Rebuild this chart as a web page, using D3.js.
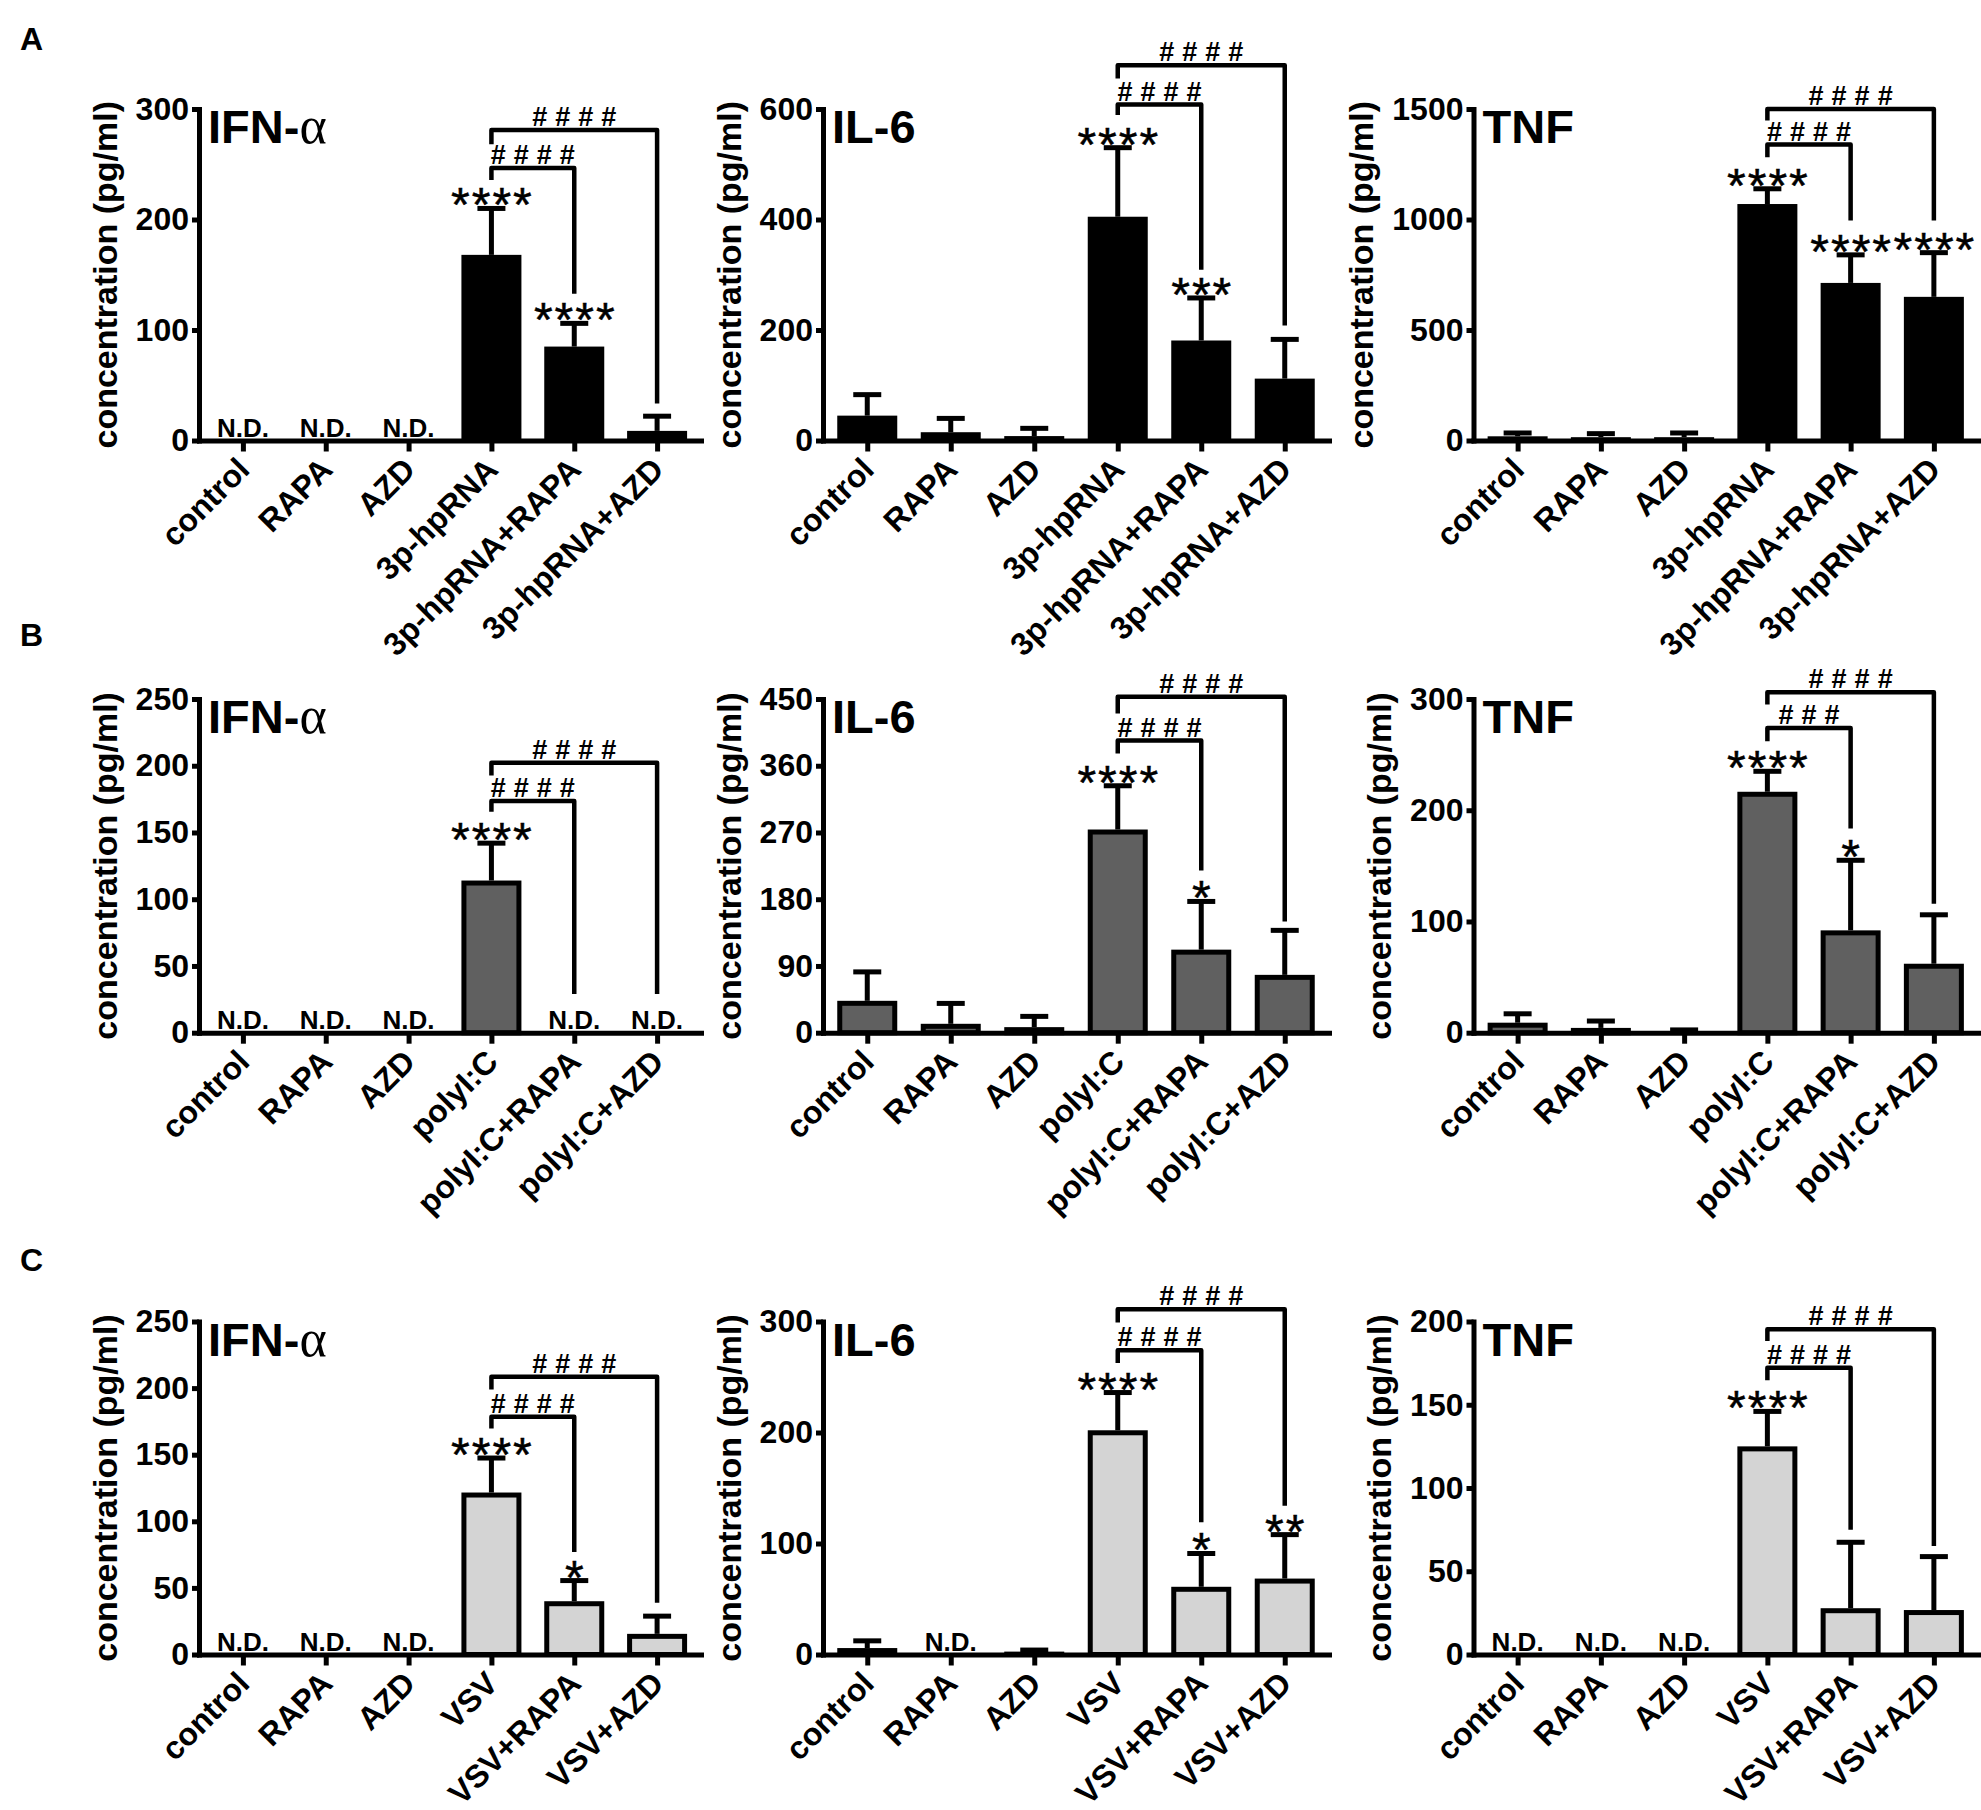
<!DOCTYPE html>
<html>
<head>
<meta charset="utf-8">
<script src="https://cdn.jsdelivr.net/npm/d3@7"></script>
<style>
  body { margin: 0; background: #fff; }
  svg { display: block; }
</style>
</head>
<body>
<script>
let width = 1981;
let height = 1810;
const FONT = "'Liberation Sans', Arial, Helvetica, sans-serif";

// group names per row
const groups3p   = ['control', 'RAPA', 'AZD', '3p-hpRNA', '3p-hpRNA+RAPA', '3p-hpRNA+AZD'];
const groupsPoly = ['control', 'RAPA', 'AZD', 'polyI:C', 'polyI:C+RAPA', 'polyI:C+AZD'];
const groupsVsv  = ['control', 'RAPA', 'AZD', 'VSV', 'VSV+RAPA', 'VSV+AZD'];

// A: 3p-hpRNA  (null = N.D.)
const ifn3pMean  = [null, null, null, 168, 85, 8.7];
const ifn3pUpper = [null, null, null, 210, 106, 22];
const ifn3pStars = ['', '', '', '****', '****', ''];
const il63pMean  = [45, 15, 8, 405, 181, 112];
const il63pUpper = [83, 40, 22, 530, 258, 183];
const il63pStars = ['', '', '', '****', '***', ''];
const tnf3pMean  = [19, 15, 15, 1070, 713, 650];
const tnf3pUpper = [34, 31, 34, 1139, 840, 850];
const tnf3pStars = ['', '', '', '****', '****', '****'];

// B: polyI:C
const ifnPolyMean  = [null, null, null, 114, null, null];
const ifnPolyUpper = [null, null, null, 142, null, null];
const ifnPolyStars = ['', '', '', '****', '', ''];
const il6PolyMean  = [43, 12, 7.5, 274, 112, 78];
const il6PolyUpper = [82, 39.5, 22, 333, 177, 138];
const il6PolyStars = ['', '', '', '****', '*', ''];
const tnfPolyMean  = [9, 4.3, 2, 216.6, 92, 62];
const tnfPolyUpper = [17, 10.5, 2.5, 235, 155, 106];
const tnfPolyStars = ['', '', '', '****', '*', ''];

// C: VSV
const ifnVsvMean  = [null, null, null, 121.6, 40, 15.5];
const ifnVsvUpper = [null, null, null, 147.5, 55.5, 28.8];
const ifnVsvStars = ['', '', '', '****', '*', ''];
const il6VsvMean  = [5.8, null, 2.6, 202, 61, 68.4];
const il6VsvUpper = [12.3, null, 4, 236, 91, 108];
const il6VsvStars = ['', '', '', '****', '*', '**'];
const tnfVsvMean  = [null, null, null, 125, 27.8, 26.7];
const tnfVsvUpper = [null, null, null, 146, 67.4, 58.8];
const tnfVsvStars = ['', '', '', '****', '', ''];

// comparison brackets vs group 4: [target group, bracket level, left foot, right foot, label] in data units
const ifn3pBrackets   = [[4, 246.6, 235.7, 132.7, '####'], [5, 281, 268, 33.5, '####']];
const il63pBrackets   = [[4, 608, 589, 309, '####'], [5, 679, 655, 208, '####']];
const tnf3pBrackets   = [[4, 1339, 1282, 995, '####'], [5, 1500, 1448, 995, '####']];
const ifnPolyBrackets = [[4, 173.6, 165.6, 29, '####'], [5, 202.3, 192.6, 29, '####']];
const il6PolyBrackets = [[4, 394, 376.5, 218.6, '####'], [5, 453, 430.5, 150, '####']];
const tnfPolyBrackets = [[4, 274, 262, 183.5, '###'], [5, 306, 295, 116, '####']];
const ifnVsvBrackets  = [[4, 178.5, 169.7, 77, '####'], [5, 208.5, 199, 38.8, '####']];
const il6VsvBrackets  = [[4, 274, 262.7, 119.2, '####'], [5, 311, 299, 134, '####']];
const tnfVsvBrackets  = [[4, 172.2, 164.7, 74.9, '####'], [5, 195.3, 188.3, 65.2, '####']];

const rowLetters = ['A', 'B', 'C'];
const rowFills = ['#000000', '#606060', '#d4d4d4'];

// plot frame positions
const colX = [[199, 701], [823, 1329], [1473.5, 1978]];
const rowY = [[440.5, 109], [1032.7, 699], [1654.5, 1321.5]];
const letterY = [50, 646, 1271];

const panels = [
	{ row: 0, col: 0, title: ['IFN-', 'α'], groups: groups3p, max: 300, step: 100, mean: ifn3pMean, upper: ifn3pUpper, stars: ifn3pStars, brackets: ifn3pBrackets },
	{ row: 0, col: 1, title: ['IL-6', ''], groups: groups3p, max: 600, step: 200, mean: il63pMean, upper: il63pUpper, stars: il63pStars, brackets: il63pBrackets },
	{ row: 0, col: 2, title: ['TNF', ''], groups: groups3p, max: 1500, step: 500, mean: tnf3pMean, upper: tnf3pUpper, stars: tnf3pStars, brackets: tnf3pBrackets },
	{ row: 1, col: 0, title: ['IFN-', 'α'], groups: groupsPoly, max: 250, step: 50, mean: ifnPolyMean, upper: ifnPolyUpper, stars: ifnPolyStars, brackets: ifnPolyBrackets },
	{ row: 1, col: 1, title: ['IL-6', ''], groups: groupsPoly, max: 450, step: 90, mean: il6PolyMean, upper: il6PolyUpper, stars: il6PolyStars, brackets: il6PolyBrackets },
	{ row: 1, col: 2, title: ['TNF', ''], groups: groupsPoly, max: 300, step: 100, mean: tnfPolyMean, upper: tnfPolyUpper, stars: tnfPolyStars, brackets: tnfPolyBrackets },
	{ row: 2, col: 0, title: ['IFN-', 'α'], groups: groupsVsv, max: 250, step: 50, mean: ifnVsvMean, upper: ifnVsvUpper, stars: ifnVsvStars, brackets: ifnVsvBrackets },
	{ row: 2, col: 1, title: ['IL-6', ''], groups: groupsVsv, max: 300, step: 100, mean: il6VsvMean, upper: il6VsvUpper, stars: il6VsvStars, brackets: il6VsvBrackets },
	{ row: 2, col: 2, title: ['TNF', ''], groups: groupsVsv, max: 200, step: 50, mean: tnfVsvMean, upper: tnfVsvUpper, stars: tnfVsvStars, brackets: tnfVsvBrackets }
];

let svg = d3.select('body').append('svg')
	.attr('width', width)
	.attr('height', height)
	.style('background-color', '#fff');

// row letters
rowLetters.forEach((l, i) => {
	svg.append('text')
		.attr('x', 20)
		.attr('y', letterY[i])
		.attr('font-family', FONT)
		.attr('font-size', 32)
		.attr('font-weight', 'bold')
		.text(l);
});

function drawPanel(p) {
	let [x0, x1] = colX[p.col];
	let [yb, yt] = rowY[p.row];
	let x = d3.scalePoint().domain(p.groups).range([x0, x1]).padding(0.53);
	let y = d3.scaleLinear().domain([0, p.max]).range([yb, yt]);
	let g = svg.append('g');
	let barW = 55;

	let data = p.groups.map((name, i) => ({ name: name, mean: p.mean[i], upper: p.upper[i], stars: p.stars[i] }));
	let shown = data.filter(d => d.mean != null);

	// bars
	g.selectAll('.bar').data(shown).join('rect')
		.attr('class', 'bar')
		.attr('x', d => x(d.name) - barW / 2)
		.attr('y', d => Math.min(y(d.mean) + 2.5, yb))
		.attr('width', barW)
		.attr('height', d => Math.max(0, yb - (y(d.mean) + 2.5)))
		.attr('fill', rowFills[p.row])
		.attr('stroke', '#000')
		.attr('stroke-width', 5);

	// error bars (upper only)
	let err = g.selectAll('.err').data(shown).join('g').attr('class', 'err');
	err.append('line')
		.attr('x1', d => x(d.name)).attr('x2', d => x(d.name))
		.attr('y1', d => y(d.mean)).attr('y2', d => y(d.upper))
		.attr('stroke', '#000').attr('stroke-width', 5);
	err.append('line')
		.attr('x1', d => x(d.name) - 14).attr('x2', d => x(d.name) + 14)
		.attr('y1', d => y(d.upper)).attr('y2', d => y(d.upper))
		.attr('stroke', '#000').attr('stroke-width', 5);

	// y axis
	let yAxis = g.append('g')
		.attr('transform', 'translate(' + x0 + ',0)')
		.call(d3.axisLeft(y)
			.tickValues(d3.range(0, p.max + 0.001, p.step))
			.tickFormat(d3.format('d'))
			.tickSize(7).tickSizeOuter(0).tickPadding(3));
	yAxis.select('.domain').attr('stroke-width', 5).attr('stroke-linecap', 'square');
	yAxis.selectAll('.tick line').attr('stroke-width', 5);
	yAxis.selectAll('text')
		.attr('font-family', FONT).attr('font-size', 32).attr('font-weight', 'bold').attr('fill', '#000');

	// x axis
	let xAxis = g.append('g')
		.attr('transform', 'translate(0,' + yb + ')')
		.call(d3.axisBottom(x).tickSize(11).tickSizeOuter(0));
	xAxis.select('.domain').attr('stroke-width', 5).attr('stroke-linecap', 'square');
	xAxis.selectAll('.tick line').attr('stroke-width', 5);
	xAxis.selectAll('text')
		.attr('font-family', FONT).attr('font-size', 32).attr('font-weight', 'bold').attr('fill', '#000')
		.attr('text-anchor', 'end')
		.attr('x', 0).attr('y', 0).attr('dy', 0)
		.attr('transform', 'translate(8,31) rotate(-45)');

	// y label, placed left of the widest tick label
	let tickLeft = d3.min(yAxis.selectAll('text').nodes(), n => {
		let b = n.getBBox();
		return x0 + b.x - 10;
	});
	g.append('text')
		.attr('transform', 'translate(' + (tickLeft - 9) + ',' + ((yb + yt) / 2) + ') rotate(-90)')
		.attr('text-anchor', 'middle')
		.attr('font-family', FONT).attr('font-size', 34).attr('font-weight', 'bold')
		.text('concentration (pg/ml)');

	// title
	let t = g.append('text')
		.attr('x', x0 + 9).attr('y', yt + 34)
		.attr('font-family', FONT).attr('font-size', 47).attr('font-weight', 'bold');
	t.append('tspan').text(p.title[0]);
	if (p.title[1]) {
		t.append('tspan')
			.attr('font-family', "'Liberation Serif', 'DejaVu Serif', serif")
			.attr('font-weight', 'normal')
			.attr('font-size', 52)
			.text(p.title[1]);
	}

	// N.D.
	g.selectAll('.nd').data(data.filter(d => d.mean == null)).join('text')
		.attr('class', 'nd')
		.attr('x', d => x(d.name)).attr('y', yb - 4)
		.attr('text-anchor', 'middle')
		.attr('font-family', FONT).attr('font-size', 26).attr('font-weight', 'bold')
		.text('N.D.');

	// stars
	g.selectAll('.star').data(shown.filter(d => d.stars)).join('text')
		.attr('class', 'star')
		.attr('x', d => x(d.name) + 1).attr('y', d => y(d.upper) + 13)
		.attr('text-anchor', 'middle')
		.attr('font-family', FONT).attr('font-size', 48)
		.attr('letter-spacing', 2)
		.attr('stroke', '#000').attr('stroke-width', 0.5)
		.text(d => d.stars);

	// brackets
	for (let b of p.brackets) {
		let xa = x(p.groups[3]);
		let xb = x(p.groups[b[0]]);
		g.append('path')
			.attr('d', 'M' + xa + ',' + y(b[2]) + 'V' + y(b[1]) + 'H' + xb + 'V' + y(b[3]))
			.attr('fill', 'none')
			.attr('stroke', '#000')
			.attr('stroke-width', 4.5)
			.attr('stroke-linejoin', 'round');
		g.append('text')
			.attr('x', (xa + xb) / 2 + 4).attr('y', y(b[1]) - 4)
			.attr('text-anchor', 'middle')
			.attr('font-family', FONT).attr('font-size', 27).attr('font-weight', 'bold')
			.attr('letter-spacing', 8)
			.text(b[4]);
	}
}

panels.forEach(drawPanel);
</script>
</body>
</html>
